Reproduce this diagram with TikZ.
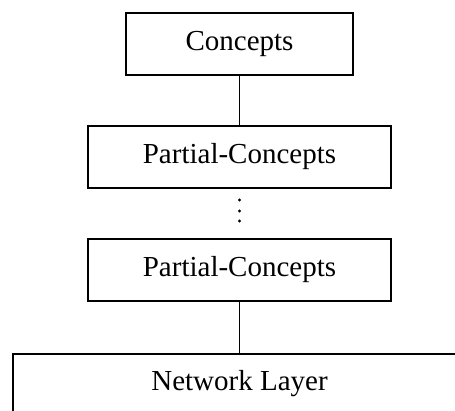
\documentclass[tikz,border=0pt]{standalone}
\usepackage{fontspec}
\setmainfont{Liberation Serif}
\begin{document}
\begin{tikzpicture}[x=1pt,y=-1pt,
  layerbox/.style={draw,line width=1.3pt,minimum height=62pt,inner sep=0pt,font=\fontsize{29}{34}\selectfont},
  link/.style={line width=1.1pt}]
\useasboundingbox (0,0) rectangle (455,410);
\node[layerbox,minimum width=227pt] (concepts) at (239.5,44) {Concepts};
\node[layerbox,minimum width=303pt] (partA) at (239.5,157) {Partial-Concepts};
\node[layerbox,minimum width=303pt] (partB) at (239.5,270) {Partial-Concepts};
\coordinate (nettop) at (239.5,354);
\draw[line width=1.3pt] (13,412) -- (13,354) -- (457,354);
\node[font=\fontsize{29}{34}\selectfont,anchor=base] (net) at (239.5,390) {Network Layer};
\draw[link] (concepts.south) -- (partA.north);
\draw[link] (partB.south) -- (nettop);
\foreach \yy in {200,211,221} \fill (239.5,\yy) circle (1.6pt);
\end{tikzpicture}
\end{document}
